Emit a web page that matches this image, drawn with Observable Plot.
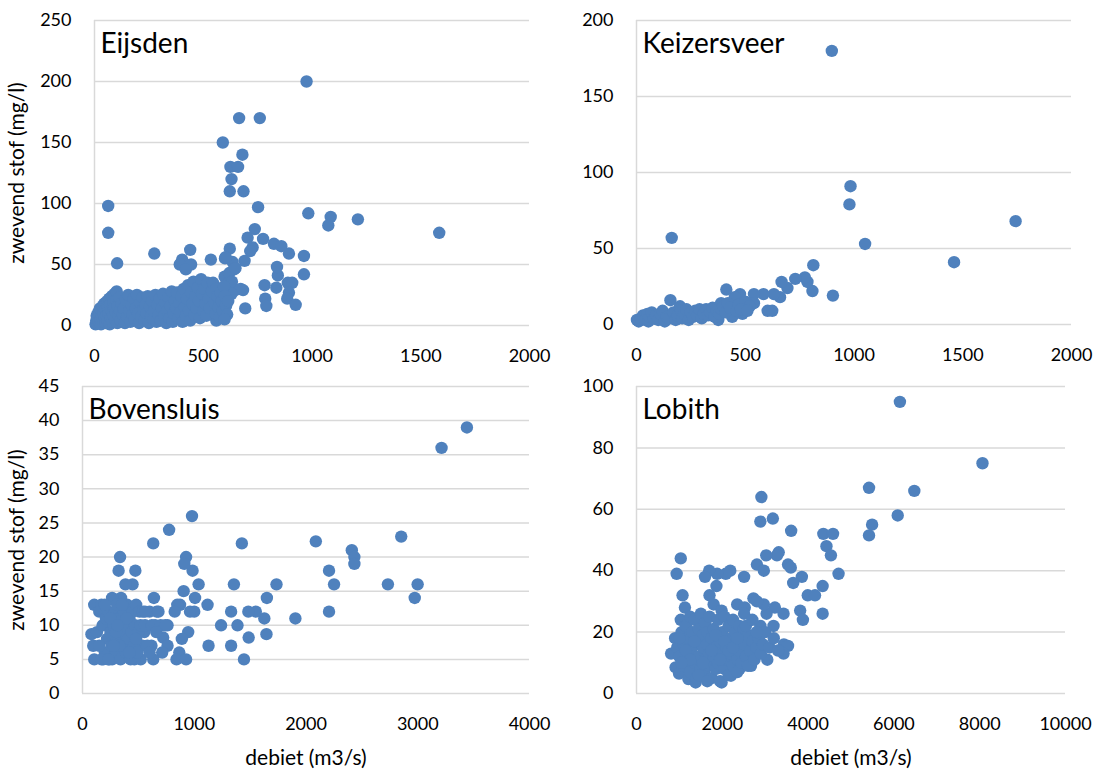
<!DOCTYPE html>
<html><head><meta charset="utf-8">
<script src="https://cdn.jsdelivr.net/npm/d3@7"></script>
<script src="https://cdn.jsdelivr.net/npm/@observablehq/plot@0.6"></script>
<style>
body{margin:0;background:#fff;}
#wrap{position:relative;width:1102px;height:769px;font-family:Lato,sans-serif;}
.panel{position:absolute;}
.panel svg{overflow:visible;}
</style>
</head><body><div id="wrap"></div>
<script>
// Station titles and axis labels
const titles = ["Eijsden", "Keizersveer", "Bovensluis", "Lobith"];
const yLabelText = "zwevend stof (mg/l)";
const xLabelText = "debiet (m3/s)";

// Axis tick values per panel
const eijsdenXTicks = [0, 500, 1000, 1500, 2000];
const eijsdenYTicks = [0, 50, 100, 150, 200, 250];
const keizersveerXTicks = [0, 500, 1000, 1500, 2000];
const keizersveerYTicks = [0, 50, 100, 150, 200];
const bovensluisXTicks = [0, 1000, 2000, 3000, 4000];
const bovensluisYTicks = [0, 5, 10, 15, 20, 25, 30, 35, 40, 45];
const lobithXTicks = [0, 2000, 4000, 6000, 8000, 10000];
const lobithYTicks = [0, 20, 40, 60, 80, 100];

// [debiet (m3/s), zwevend stof (mg/l)]
const eijsden = [
[975,200],[665,170],[760,170],[590,150],[680,140],[625,130],[660,130],[630,120],[622,110],[685,110],[752,97],[63,98],[63,76],[983,92],[1086,89],[1075,82],[1211,87],[1585,76],[737,79],[704,72],[775,71],[727,64],[716,61],[825,67],[859,65],[894,59],[963,57],[963,42],[622,63],[600,55],[635,52],[642,46],[690,53],[535,54],[440,62],[403,54],[416,50],[392,50],[444,50],[420,46],[275,59],[104,51],[598,40],[617,35],[647,29],[683,29],[693,14],[782,33],[785,22],[790,16],[836,31],[843,41],[839,48],[889,35],[909,35],[894,27],[886,22],[925,17],[560,4],
[620,43],[632,36],[672,30],[600,29],[630,26],[603,56],[648,47],
[5,1],[8,4],[10,8],[12,2],[15,6],[18,11],[20,3],[22,9],[25,14],[28,5],[30,1],[32,12],[35,7],[38,16],[40,3],[42,10],[45,18],[48,6],[50,13],[52,2],
[55,8],[58,20],[60,4],[62,15],[65,10],[68,22],[70,1],[72,17],[75,6],[78,12],[80,24],[82,3],[85,9],[88,19],[90,14],[92,26],[95,5],[98,11],[100,21],[102,28],
[105,2],[108,16],[110,8],[115,23],[118,12],[120,4],[125,18],[130,9],[135,14],[140,2],[145,21],[150,7],[155,25],[160,12],[165,3],[170,17],[175,9],[180,22],[185,5],[190,14],[195,25],[200,10],
[205,2],[210,19],[215,7],[220,23],[225,13],[230,4],[235,17],[240,10],[245,24],[250,2],[255,15],[260,8],[265,20],[270,5],[275,12],[280,25],[285,3],[290,17],[295,9],[300,22],
[305,4],[310,14],[315,26],[320,8],[325,19],[330,2],[335,12],[340,23],[345,6],[350,16],[355,28],[360,3],[365,10],[370,20],[375,14],[380,27],[385,6],[390,18],[395,11],[400,24],
[405,3],[410,30],[415,15],[420,8],[425,22],[430,33],[435,12],[440,4],[445,27],[450,18],[455,36],[460,9],[465,24],[470,14],[475,31],[480,20],[485,6],[490,38],[495,26],[500,12],
[505,30],[510,18],[515,8],[520,35],[525,22],[530,14],[540,28],[545,35],[550,19],[555,10],[560,30],[565,24],[570,15],[575,7],[580,27],[585,20],[590,12],[595,32],[600,24],[605,16],[610,9],[615,20],[598,5]
];

const keizersveer = [
[898,180],[984,91],[979,79],[1051,53],[1743,68],[1460,41],[162,57],[156,16],[813,39],[903,19],[809,22],[786,28],[774,31],[730,30],[694,24],[667,28],[660,18],[632,20],[603,9],[624,9],[584,20],[540,20],[540,14],[476,20],[452,18],[413,23],[487,7],[497,13],[444,12],[389,14],[376,3],[440,5],
[2,3],[10,2],[20,4],[30,6],[40,3],[50,7],[55,2],[60,5],[70,8],[80,4],[90,6],[100,3],[110,7],[120,9],[130,2],[140,5],[150,4],[170,8],[180,3],[190,6],[200,12],[205,9],[210,4],[220,7],[230,10],[240,3],[250,8],[260,5],[270,9],[280,6],[290,10],[300,4],[310,7],[320,10],[330,6],[340,8],[350,11],[360,5],[370,9],[380,7],[390,10],[400,12],[410,8],[420,14],[430,11],[460,9],[470,13],[500,15],[520,12],[480,10],[510,9]
];

const bovensluis = [
[3440,39],[3213,36],[980,26],[775,24],[633,22],[1426,22],[2088,22.3],[2852,23],[2410,21],[2433,20],[2433,19],[2206,18],[2251,16],[2206,12],[2733,16],[2999,16],[2973,14],[1905,11],[1736,16],[1650,14],[1627,11],[1646,8.7],[1551,12],[1484,12],[1487,8.2],[1445,5],[1355,16],[1330,12],[1387,10],[1330,7],[1240,10],[1128,7],[1119,13],[1039,16],[1007,14],[985,18],[1000,12],[962,12],[927,20],[911,19],[905,15],[873,13],[848,13],[825,12],[946,9],[889,8],[866,6],[841,5],[927,5],[761,10],[722,8.2],[761,7],[713,6],[665,12],[639,14],[633,5],[617,7],[553,9],[537,7],[521,5],[464,5],[473,18],[448,16],[384,16],[336,20],[323,18],[345,14],[265,14],[105,13],[169,13],[80,8.7],[96,7],[105,5],[185,5],[265,5],
[130,9],[150,12],[180,10],[200,6],[210,11],[220,8],[230,12],[240,5],[250,9],[260,7],[280,10],[290,12],[300,6],[310,13],[320,8],[330,11],[340,5],[350,9],[360,7],[370,12],[380,10],[390,6],[400,13],[410,8],[420,11],[430,5],[440,9],[450,12],[460,7],[470,10],[480,13],[490,6],[500,9],[510,12],[520,10],[540,12],[560,10],[580,7],[600,12],[620,10],[650,10],[680,12],[700,10],[740,10],[200,13],[150,7],[170,5],[300,9],[330,7],[420,6],[480,8],[355,13],[395,11],[600,6],[660,9],[560,12],[230,5],[250,11],[280,7],[315,10]
];

const lobith = [
[6140,95],[8065,75],[5420,67],[6476,66],[6089,58],[5492,55],[5420,51.5],[2911,64],[2887,56],[3178,57],[3605,53],[4355,52],[4581,52],[4428,48],[4532,45],[4710,39],[4339,35],[4339,26],[3855,38],[3653,36],[3532,42],[3597,41],[3315,46],[3274,45],[3024,45],[2807,42],[2968,40],[3992,32],[4161,32],[3815,27],[3879,24],[3428,26],[3226,28],[3032,26],[2968,29],[2726,31],[2807,30],[2508,38],[2186,40],[2081,39],[1879,39],[1694,40],[1597,38],[1863,35],[1702,32],[1798,29],[1984,27],[2347,29],[2524,28],[2508,26],[2887,22],[3194,22],[3436,16],[3532,15.5],[3428,13],[3049,11],[936,39],[1032,44],[1073,32],[1129,28],[1032,24],[806,13],[911,8.5],[992,6.5],[1210,4.7],[1379,3.6],[1984,3.6],[2202,5.8],[2669,9],[2403,8],
[900,18],[950,15],[1000,12],[1050,20],[1100,16],[1100,9],[1150,22],[1200,13],[1200,18],[1250,7],[1250,25],[1300,15],[1300,20],[1350,10],[1350,24],[1400,5],[1400,17],[1450,12],[1450,21],[1500,8],[1500,26],[1550,15],[1550,19],[1600,6],[1600,11],[1600,23],[1650,16],[1650,20],[1700,9],[1700,13],[1700,25],[1750,18],[1750,5],[1800,12],[1800,21],[1850,15],[1850,8],[1900,24],[1900,10],[1950,17],[1950,4],[2000,13],[2000,20],[2050,8],[2050,25],[2100,15],[2100,11],[2150,22],[2150,6],[2200,18],[2200,13],[2250,9],[2250,24],[2300,16],[2300,20],[2350,11],[2350,7],[2400,22],[2400,14],[2450,18],[2450,10],[2500,16],[2500,21],[2550,12],[2600,19],[2600,9],[2650,14],[2700,17],[2750,11],[2800,15],[2850,18],[2900,13],[2950,16],[3000,20],[3100,15],[3200,18],[3300,14],[1150,14],[1250,11],[1350,17],[1450,6],[1550,10],[1650,4],[1750,14],[1850,19],[1950,11],[2050,17],[2150,14],[2250,15],[2350,18],[2550,22],[2700,24],[2800,20],[1000,18],[1050,10]
];

const dotColor = "#4f81bd";
const gridColor = "#d9d9d9";

function panel(cfg) {
  const xMax = cfg.xTicks[cfg.xTicks.length - 1];
  const yMax = cfg.yTicks[cfg.yTicks.length - 1];
  const fmt = d => String(d);
  const marks = [
    Plot.gridY(cfg.yTicks, {stroke: gridColor, strokeOpacity: 1, strokeWidth: 1.5}),
    Plot.ruleX([0], {stroke: gridColor, strokeOpacity: 1, strokeWidth: 1.5}),
    Plot.axisX(cfg.xTicks, {tickSize: 0, tickPadding: 24, tickFormat: fmt, fontSize: 18, label: null}),
    Plot.axisY(cfg.yTicks, {tickSize: 0, tickPadding: 23, tickFormat: fmt, fontSize: 18, label: null}),
    Plot.dot(cfg.data, {x: d => d[0], y: d => d[1], r: 6.2, fill: dotColor, stroke: null}),
    Plot.text([cfg.title], {text: d => d, frameAnchor: "top-left", dx: 6, dy: 24, fontSize: 28,
      textAnchor: "start", lineAnchor: "middle", fill: "#000"})
  ];
  if (cfg.xLabel) marks.push(Plot.axisX([], {label: xLabelText, labelAnchor: "center", labelOffset: 71,
    labelArrow: false, fontSize: 21, tickSize: 0}));
  if (cfg.yLabel) marks.push(Plot.axisY([], {label: yLabelText, labelAnchor: "center", labelOffset: cfg.mL - 9,
    labelArrow: false, fontSize: 21, tickSize: 0}));
  const chart = Plot.plot({
    width: cfg.width, height: cfg.height,
    marginLeft: cfg.mL, marginRight: cfg.mR, marginTop: cfg.mT, marginBottom: cfg.mB,
    style: {fontFamily: "Lato, sans-serif", fontSize: "18px", color: "#000", background: "transparent", overflow: "visible"},
    x: {domain: [0, xMax]},
    y: {domain: [0, yMax]},
    marks
  });
  const div = document.createElement("div");
  div.className = "panel";
  div.style.left = cfg.left + "px";
  div.style.top = cfg.top + "px";
  div.appendChild(chart);
  document.getElementById("wrap").appendChild(div);
}

panel({title: titles[0], data: eijsden, xTicks: eijsdenXTicks, yTicks: eijsdenYTicks,
  left: 0, top: 0, width: 551, height: 370, mL: 94, mR: 22, mT: 20, mB: 45, yLabel: true, xLabel: false});
panel({title: titles[1], data: keizersveer, xTicks: keizersveerXTicks, yTicks: keizersveerYTicks,
  left: 551, top: 0, width: 551, height: 370, mL: 85, mR: 31, mT: 20, mB: 46, yLabel: false, xLabel: false});
panel({title: titles[2], data: bovensluis, xTicks: bovensluisXTicks, yTicks: bovensluisYTicks,
  left: 0, top: 370, width: 551, height: 399, mL: 82, mR: 22, mT: 16, mB: 76, yLabel: true, xLabel: true});
panel({title: titles[3], data: lobith, xTicks: lobithXTicks, yTicks: lobithYTicks,
  left: 551, top: 370, width: 551, height: 399, mL: 85, mR: 37, mT: 16, mB: 76, yLabel: false, xLabel: true});
</script></body></html>
